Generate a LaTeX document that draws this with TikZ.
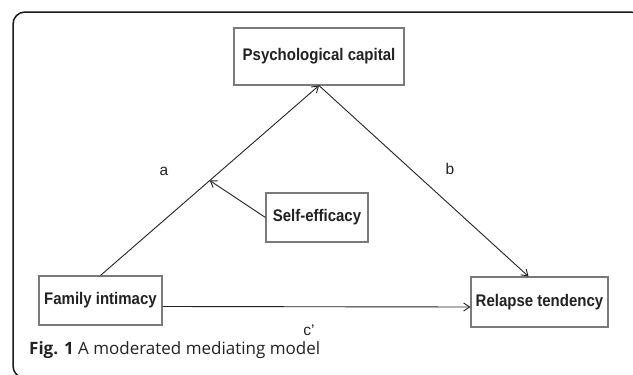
\documentclass[tikz,border=0pt]{standalone}
\usepackage{fontspec}
\usepackage{graphicx}
\setmainfont{Liberation Sans}
\newfontfamily\capfont{Open Sans}
\usetikzlibrary{arrows.meta,calc}
\definecolor{ink}{HTML}{222222}
\definecolor{boxgray}{HTML}{7A7A7A}
\newcommand\talltext[1]{\scalebox{1}[1.12]{#1}}
\tikzset{
  varbox/.style={draw=boxgray,line width=1.1pt,fill=white,text=ink,font=\fontsize{15}{18}\selectfont\bfseries,inner sep=0pt,minimum width=#1},
  conn/.style={draw=ink,line width=0.9pt,-{Straight Barb[length=6pt,width=8pt,line width=0.9pt]}},
  lab/.style={text=ink,font=\fontsize{15.5}{18}\selectfont,inner sep=0pt}
}
\begin{document}
\begin{tikzpicture}[x=1pt,y=-1pt]
\useasboundingbox (0,0) rectangle (633,375);
\begin{scope}
\clip (0,0) rectangle (633,375);
\draw[line width=1.5pt,draw=black!90,rounded corners=12pt] (13,12) rectangle (643,378);
\end{scope}
\node[varbox=170pt,minimum height=57pt] (psy) at (319,56.5) {\talltext{Psychological capital}};
\node[varbox=123pt,minimum height=49pt] (fam) at (100.5,300.5) {\talltext{Family intimacy}};
\node[varbox=137pt,minimum height=50pt] (rel) at (539.5,302) {\talltext{Relapse tendency}};
\node[varbox=102pt,minimum height=49pt] (self) at (317,217.5) {\talltext{Self-efficacy}};
\coordinate (mid) at ($(fam.north)!0.5!(psy.south)$);
\draw[conn] (fam.north) -- (psy.south);
\draw[conn] (psy.south) -- ($(rel.north)+(-11,0)$);
\draw[conn] ($(fam.east)+(0,6)$) -- ($(rel.west)+(0,5)$);
\draw[conn] (self.west) -- (mid);
\node[lab] (la) at (164,171) {a};
\node[lab] (lb) at (450,169) {b};
\node[lab] (lc) at (309,330) {c’};
\node[anchor=base west,inner sep=0pt,text=ink,font=\capfont\fontsize{17}{20}\selectfont] (cap) at (29,354) {\textbf{Fig. 1} A moderated mediating model};
\end{tikzpicture}
\end{document}
